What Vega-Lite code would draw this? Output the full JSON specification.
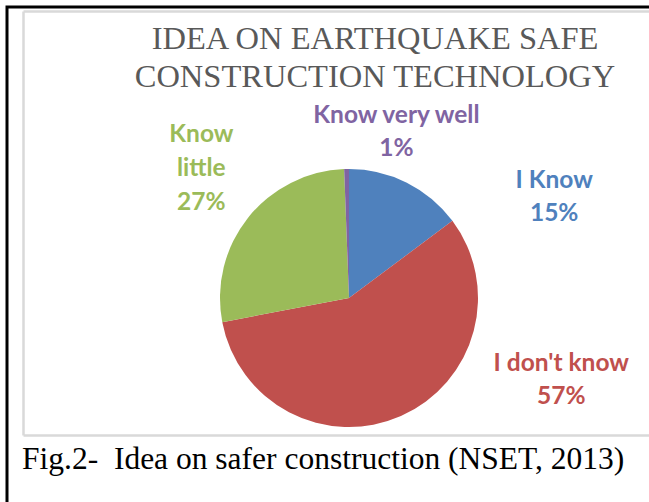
{
  "$schema": "https://vega.github.io/schema/vega-lite/v6.json",
  "background": "white",
  "padding": {"left": 5, "top": 5, "right": 0, "bottom": 0},
  "title": {
    "text": "Fig.2-\u00a0 Idea on safer construction (NSET, 2013)",
    "orient": "bottom",
    "anchor": "start",
    "frame": "group",
    "offset": -147,
    "dx": 15,
    "font": "Liberation Serif",
    "fontSize": 31.5,
    "fontWeight": "normal",
    "color": "#000000"
  },
  "datasets": {
    "survey": [
      {"category": "I Know", "share": 14.8, "label": "I Know\n15%"},
      {"category": "I don't know", "share": 57.2, "label": "I don't know\n57%"},
      {"category": "Know little", "share": 27.4, "label": "Know\nlittle\n27%"},
      {"category": "Know very well", "share": 0.6, "label": "Know very well\n1%"}
    ]
  },
  "vconcat": [
    {
      "width": 684,
      "height": 582,
      "view": {"stroke": "#000000", "strokeWidth": 3},
      "title": {
        "text": ["IDEA ON EARTHQUAKE SAFE", "CONSTRUCTION TECHNOLOGY"],
        "orient": "top",
        "anchor": "middle",
        "frame": "group",
        "offset": -86,
        "dx": 26,
        "font": "Liberation Serif",
        "fontSize": 32.5,
        "fontWeight": "normal",
        "lineHeight": 38,
        "color": "#595959"
      },
      "data": {"name": "survey"},
      "resolve": {"axis": {"x": "independent"}},
      "layer": [
        {
          "mark": {"type": "point", "opacity": 0},
          "encoding": {
            "x": {"field": "share", "type": "quantitative", "scale": {"range": [16, 684]},
              "axis": {"orient": "bottom", "offset": -154, "domainColor": "#D9D9D9", "domainWidth": 2.5, "ticks": false, "labels": false, "grid": false, "title": null}},
            "y": {"field": "share", "type": "quantitative", "scale": {"range": [428, 4]},
              "axis": {"orient": "left", "offset": -16, "domainColor": "#D9D9D9", "domainWidth": 2.5, "ticks": false, "labels": false, "grid": false, "title": null}}
          }
        },
        {
          "mark": {"type": "point", "opacity": 0},
          "encoding": {
            "x": {"field": "share", "type": "quantitative", "scale": {"range": [16, 684]},
              "axis": {"orient": "top", "offset": -4, "domainColor": "#D9D9D9", "domainWidth": 2.5, "ticks": false, "labels": false, "grid": false, "title": null}}
          }
        },
        {
          "mark": {"type": "arc", "outerRadius": 129, "stroke": null},
          "encoding": {
            "theta": {"field": "share", "type": "quantitative", "stack": true},
            "color": {"field": "category", "type": "nominal", "scale": {"domain": ["I Know", "I don't know", "Know little", "Know very well"], "range": ["#4F81BD", "#C0504D", "#9BBB59", "#8064A2"]}, "legend": null},
            "order": {"field": "category", "sort": "ascending"}
          }
        },
        {
          "mark": {"type": "text", "radius": 190, "dx": 120, "dy": 53, "font": "Lato", "fontWeight": "bold", "fontSize": 24.5, "lineBreak": "\n", "lineHeight": 33, "baseline": "middle", "align": "center"},
          "encoding": {
            "theta": {"field": "share", "type": "quantitative", "stack": true},
            "color": {"field": "category", "type": "nominal", "legend": null},
            "order": {"field": "category", "sort": "ascending"},
            "text": {"condition": {"test": "datum.category === 'I Know'", "field": "label", "type": "nominal"}, "value": ""}
          }
        },
        {
          "mark": {"type": "text", "radius": 100, "dx": 172, "dy": -26, "font": "Lato", "fontWeight": "bold", "fontSize": 24.5, "lineBreak": "\n", "lineHeight": 33, "baseline": "middle", "align": "center"},
          "encoding": {
            "theta": {"field": "share", "type": "quantitative", "stack": true},
            "color": {"field": "category", "type": "nominal", "legend": null},
            "order": {"field": "category", "sort": "ascending"},
            "text": {"condition": {"test": "datum.category === \"I don't know\"", "field": "label", "type": "nominal"}, "value": ""}
          }
        },
        {
          "mark": {"type": "text", "radius": 190, "dx": 1, "dy": -45, "font": "Lato", "fontWeight": "bold", "fontSize": 24.5, "lineBreak": "\n", "lineHeight": 34, "baseline": "middle", "align": "center"},
          "encoding": {
            "theta": {"field": "share", "type": "quantitative", "stack": true},
            "color": {"field": "category", "type": "nominal", "legend": null},
            "order": {"field": "category", "sort": "ascending"},
            "text": {"condition": {"test": "datum.category === 'Know little'", "field": "label", "type": "nominal"}, "value": ""}
          }
        },
        {
          "mark": {"type": "text", "radius": 190, "dx": 51, "dy": 8, "font": "Lato", "fontWeight": "bold", "fontSize": 24.5, "lineBreak": "\n", "lineHeight": 33, "baseline": "middle", "align": "center"},
          "encoding": {
            "theta": {"field": "share", "type": "quantitative", "stack": true},
            "color": {"field": "category", "type": "nominal", "legend": null},
            "order": {"field": "category", "sort": "ascending"},
            "text": {"condition": {"test": "datum.category === 'Know very well'", "field": "label", "type": "nominal"}, "value": ""}
          }
        }
      ]
    }
  ]
}
